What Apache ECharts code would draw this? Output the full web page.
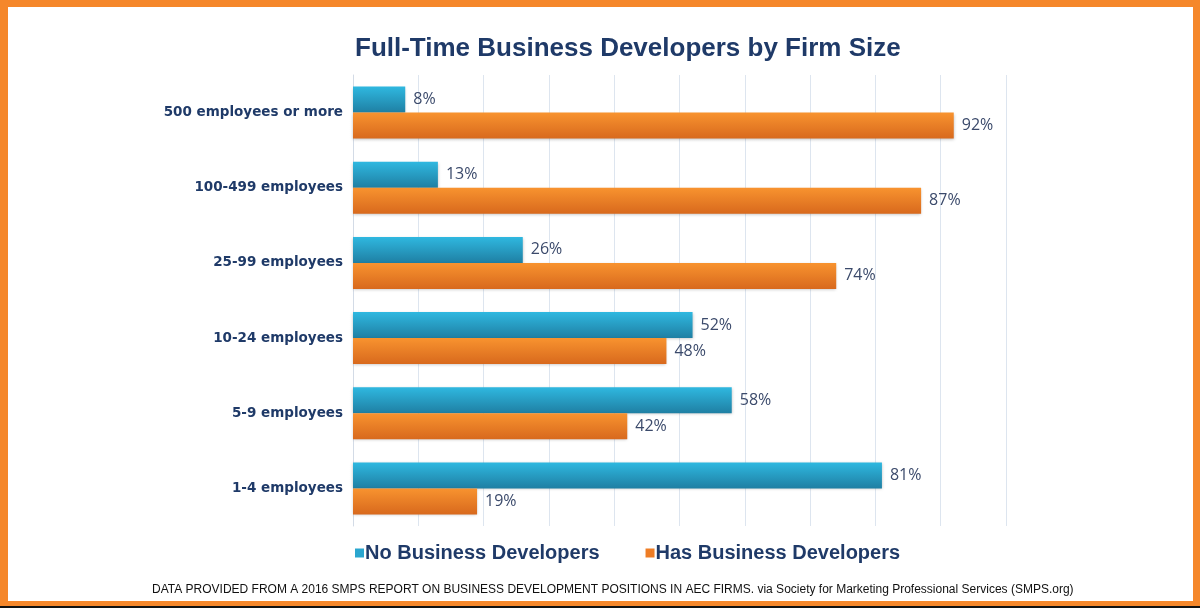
<!DOCTYPE html>
<html>
<head>
<meta charset="utf-8">
<script src="https://cdn.jsdelivr.net/npm/echarts@6/dist/echarts.min.js"></script>
<style>
  html, body { margin: 0; padding: 0; background: #fff; }
  #chart { width: 1200px; height: 608px; }
</style>
</head>
<body>
<div id="chart"></div>
<script>
// categories, top to bottom as in the picture
var firmSizes = ['500 employees or more', '100-499 employees', '25-99 employees', '10-24 employees', '5-9 employees', '1-4 employees'];
var noBizDev = [8, 13, 26, 52, 58, 81];
var hasBizDev = [92, 87, 74, 48, 42, 19];
var seriesNames = ['No Business Developers', 'Has Business Developers'];
var titleText = 'Full-Time Business Developers by Firm Size';
var sourceText = 'DATA PROVIDED FROM A 2016 SMPS REPORT ON BUSINESS DEVELOPMENT POSITIONS IN AEC FIRMS. via Society for Marketing Professional Services (SMPS.org)';

var navy = '#1f3a68';
var orange = '#f5872a';

function grad(top, bottom) {
    return new echarts.graphic.LinearGradient(0, 0, 0, 1, [
        {offset: 0, color: top},
        {offset: 1, color: bottom}
    ]);
}

var myChart = echarts.init(document.getElementById('chart'));

var barLabel = {
    show: true,
    position: 'right',
    distance: 8,
    color: '#3b4a6b',
    fontSize: 16,
    fontFamily: 'Open Sans',
    formatter: '{c}%'
};

var option = {
    backgroundColor: orange,
    animation: false,
    graphic: [
        {type: 'rect', z: -10, shape: {x: 8, y: 7, width: 1185, height: 594}, style: {fill: '#fff'}},
        {type: 'rect', z: -10, shape: {x: 0, y: 606, width: 1200, height: 2}, style: {fill: '#111'}},
        {
            type: 'text', left: 152, top: 584,
            style: {text: sourceText, fill: '#111', fontSize: 12, fontFamily: 'Liberation Sans'}
        }
    ],
    title: {
        text: titleText,
        left: 350,
        top: 31,
        textStyle: {color: navy, fontSize: 26, fontWeight: 'bold', fontFamily: 'Liberation Sans'}
    },
    legend: {
        left: 350,
        top: 538,
        itemWidth: 9,
        itemHeight: 9,
        itemGap: 46,
        icon: 'rect',
        textStyle: {color: navy, fontSize: 20, fontWeight: 'bold', fontFamily: 'Liberation Sans', padding: [0, 0, 0, -4]}
    },
    grid: {left: 353, right: 194, top: 75, bottom: 82},
    xAxis: {
        type: 'value',
        min: 0,
        max: 100,
        interval: 10,
        axisLabel: {show: false},
        axisLine: {show: false},
        axisTick: {show: false},
        splitLine: {lineStyle: {color: '#dde5ef', width: 1}}
    },
    yAxis: {
        type: 'category',
        inverse: true,
        data: firmSizes,
        axisTick: {show: false},
        axisLine: {show: true, lineStyle: {color: '#d3dbe6'}},
        axisLabel: {margin: 10, color: navy, fontSize: 13.5, fontWeight: 'bold', fontFamily: 'DejaVu Sans'}
    },
    series: [
        {
            name: seriesNames[0],
            type: 'bar',
            data: noBizDev,
            barWidth: 26,
            barGap: '0%',
            itemStyle: {
                color: grad('#2fb8e0', '#1f7fa3'),
                shadowColor: 'rgba(0,0,0,0.25)', shadowBlur: 3, shadowOffsetY: 1
            },
            label: barLabel
        },
        {
            name: seriesNames[1],
            type: 'bar',
            data: hasBizDev,
            barWidth: 26,
            barGap: '0%',
            itemStyle: {
                color: grad('#f8932f', '#d8691d'),
                shadowColor: 'rgba(0,0,0,0.25)', shadowBlur: 3, shadowOffsetY: 1
            },
            label: barLabel
        }
    ]
};

// legend swatch colours should be flat
option.legend.data = [
    {name: seriesNames[0], itemStyle: {color: '#2aa6cf'}},
    {name: seriesNames[1], itemStyle: {color: '#ee7d25'}}
];

myChart.setOption(option);
</script>
</body>
</html>
